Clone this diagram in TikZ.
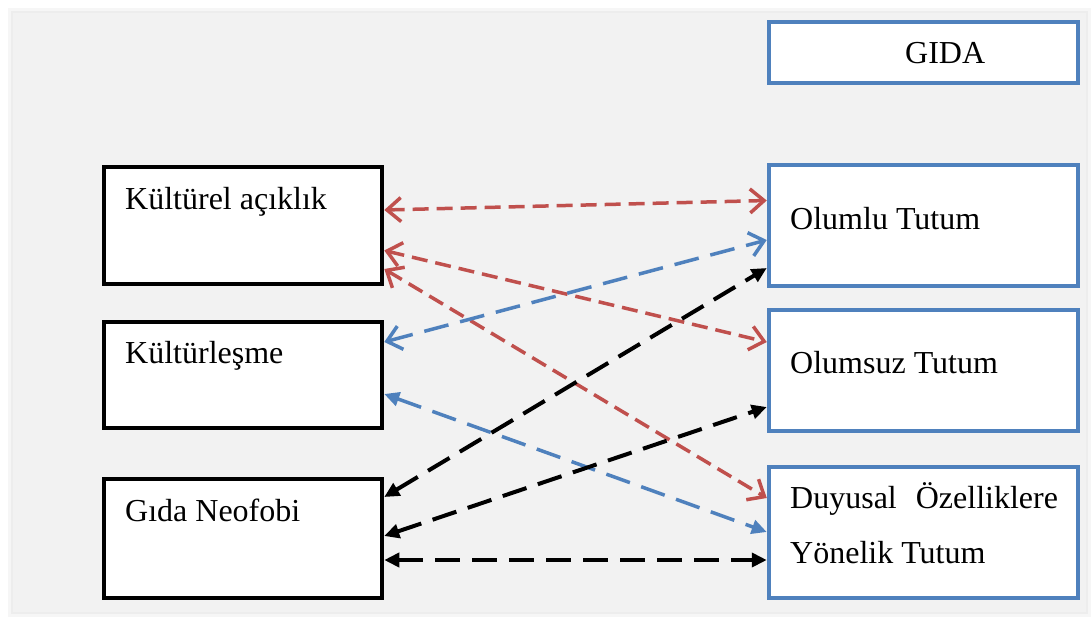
\documentclass[tikz,border=0pt]{standalone}
\usepackage{fontspec}
\setmainfont{Liberation Serif}
\usetikzlibrary{arrows.meta}
\definecolor{bgc}{HTML}{F2F2F2}
\definecolor{shc}{HTML}{E8E8E8}
\definecolor{bluec}{HTML}{4F81BD}
\definecolor{redc}{HTML}{C0504D}
\tikzset{
  lbox/.style={draw=black, line width=4.5pt, fill=white, minimum width=278pt, inner sep=0pt},
  rbox/.style={draw=bluec, line width=4.5pt, fill=white, minimum width=309pt, inner sep=0pt},
  txt/.style={anchor=base west, inner sep=0pt, font=\fontsize{32}{38}\selectfont},
  openends/.style={{Straight Barb[length=14pt,width=24pt,line width=3.5pt]}-{Straight Barb[length=14pt,width=24pt,line width=3.5pt]}},
  filledends/.style={{Triangle[length=15pt,width=14pt]}-{Triangle[length=15pt,width=14pt]}},
  redarr/.style={draw=redc, line width=3.5pt, dash pattern=on 16pt off 8pt, openends},
  bluearr/.style={draw=bluec, line width=3.5pt, dash pattern=on 25pt off 12pt},
  blackarr/.style={draw=black, line width=4pt, dash pattern=on 25pt off 12pt, filledends}
}
\begin{document}
\begin{tikzpicture}[x=1pt,y=-1pt]
\useasboundingbox (0,0) rectangle (1092,619);
\fill[white] (0,0) rectangle (1092,619);
\draw[shc!40, line width=10pt] (13,13) rectangle (1086,612);
\draw[shc!80, line width=4pt] (13,13) rectangle (1086,612);
\fill[bgc] (13,13) rectangle (1086,612);

% left boxes
\node[lbox, minimum height=117pt] (ka) at (243,225.5) {};
\node[lbox, minimum height=106pt] (kl) at (243,375) {};
\node[lbox, minimum height=119pt] (gn) at (243,538.5) {};
% right boxes
\node[rbox, minimum height=61pt] (gida) at (923.5,52.5) {};
\node[rbox, minimum height=121pt] (ol) at (923.5,225.5) {};
\node[rbox, minimum height=121pt] (os) at (923.5,370.5) {};
\node[rbox, minimum height=131pt] (dy) at (923.5,532.5) {};

% texts
\node[txt] (tka) at (125,209) {Kültürel açıklık};
\node[txt] (tkl) at (125,363) {Kültürleşme};
\node[txt] (tgn) at (125,521) {Gıda Neofobi};
\node[txt] (tgida) at (905,63) {GIDA};
\node[txt] (tol) at (790,229) {Olumlu Tutum};
\node[txt] (tos) at (790,373) {Olumsuz Tutum};
\node[txt] (tdy1) at (790,508) {Duyusal\hspace{19pt}Özelliklere};
\node[txt] (tdy2) at (790,563) {Yönelik Tutum};

% red connectors
\draw[redarr] ([yshift=15.5pt]ka.east) -- ([yshift=25pt]ol.west);
\draw[redarr] ([yshift=-25pt]ka.east) -- ([yshift=28.5pt]os.west);
\draw[redarr] ([yshift=-43.5pt]ka.east) -- ([yshift=34.5pt]dy.west);
% blue connectors
\draw[bluearr, openends] ([yshift=33pt]kl.east) -- ([yshift=-14.5pt]ol.west);
\draw[bluearr, filledends] ([yshift=-19pt]kl.east) -- ([yshift=0.5pt]dy.west);
% black connectors
\draw[blackarr] ([yshift=41.5pt]gn.east) -- ([yshift=-42.5pt]ol.west);
\draw[blackarr] ([yshift=2.5pt]gn.east) -- ([yshift=-36.5pt]os.west);
\draw[blackarr] ([yshift=-21.5pt]gn.east) -- ([yshift=-27.5pt]dy.west);
\end{tikzpicture}
\end{document}
